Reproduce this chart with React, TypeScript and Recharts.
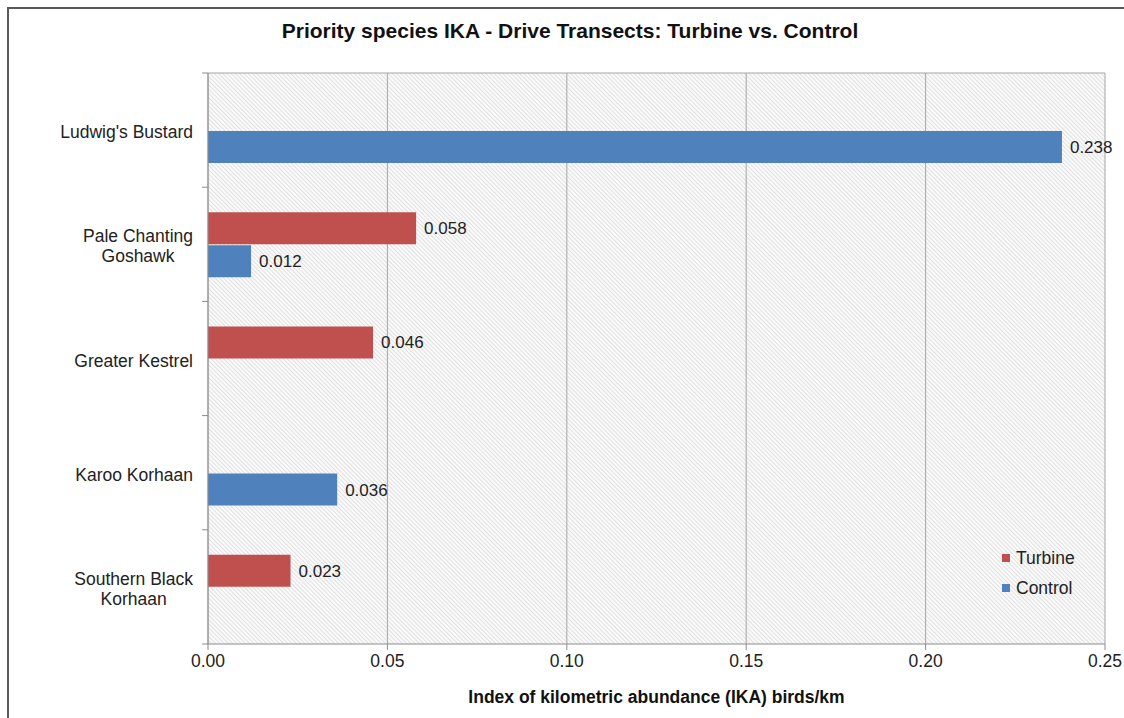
import React from 'react';
import { BarChart, Bar, XAxis, YAxis, CartesianGrid, Legend, LabelList } from 'recharts';

const species = [
  "Ludwig's Bustard",
  'Pale Chanting Goshawk',
  'Greater Kestrel',
  'Karoo Korhaan',
  'Southern Black Korhaan',
];
const turbine: (number | null)[] = [null, 0.058, 0.046, null, 0.023];
const control: (number | null)[] = [0.238, 0.012, null, 0.036, null];
const xTicks = [0, 0.05, 0.1, 0.15, 0.2, 0.25];

const data = species.map((name, i) => ({ name, turbine: turbine[i], control: control[i] }));

const W = 1124;
const H = 718;
const PLOT_LEFT = 208;
const PLOT_TOP = 73;
const PLOT_RIGHT = 1105;
const PLOT_BOTTOM = 644;
const BAND = (PLOT_BOTTOM - PLOT_TOP) / species.length;
const LABEL_RIGHT = 193;

const RED = '#C0504D';
const BLUE = '#4F81BD';
const AXIS = '#8c8c8c';
const FONT = '"Liberation Sans", Arial, sans-serif';
const FS = 17.5;

const wrap = (s: string) => {
  if (s.length <= 16) return [s];
  const cut = s.lastIndexOf(' ');
  return [s.slice(0, cut), s.slice(cut + 1)];
};

let ctx: CanvasRenderingContext2D | null = null;
const measure = (s: string) => {
  if (!ctx) ctx = document.createElement('canvas').getContext('2d');
  if (!ctx) return s.length * 8;
  ctx.font = `${FS}px ${FONT}`;
  return ctx.measureText(s).width;
};

// lines centred on each other, block right-aligned against the axis
const CategoryTick = (props: any) => {
  const { y, payload, index } = props;
  const lines = wrap(payload.value);
  const blockW = Math.max(...lines.map(measure));
  const cx = LABEL_RIGHT - blockW / 2;
  const top = y - BAND / 2;
  return (
    <g>
      <line x1={PLOT_LEFT - 6} x2={PLOT_LEFT} y1={top} y2={top} stroke={AXIS} />
      {index === species.length - 1 && (
        <line x1={PLOT_LEFT - 6} x2={PLOT_LEFT} y1={top + BAND} y2={top + BAND} stroke={AXIS} />
      )}
      <text textAnchor="middle" fontSize={FS} fill="#222" fontFamily={FONT}>
        {lines.map((l, i) => (
          <tspan key={i} x={cx} y={y + 8 + (i - (lines.length - 1) / 2) * 20}>
            {l}
          </tspan>
        ))}
      </text>
    </g>
  );
};

const fmt = (v: any) => (v == null ? '' : Number(v).toFixed(3));

const LegendBox = () => (
  <div style={{ fontFamily: FONT, fontSize: FS, color: '#222', lineHeight: '30px' }}>
    {[
      { label: 'Turbine', color: RED },
      { label: 'Control', color: BLUE },
    ].map((it) => (
      <div key={it.label} style={{ display: 'flex', alignItems: 'center' }}>
        <span style={{ width: 8, height: 8, background: it.color, marginRight: 6, display: 'inline-block' }} />
        {it.label}
      </div>
    ))}
  </div>
);

export default function App() {
  return (
    <div
      style={{
        position: 'absolute',
        left: 0,
        top: 0,
        width: W,
        height: H,
        overflow: 'hidden',
        background: '#fff',
        fontFamily: FONT,
      }}
    >
      <svg width={0} height={0} style={{ position: 'absolute' }}>
        <defs>
          <pattern id="hatch" width={3} height={3} patternUnits="userSpaceOnUse" patternTransform="rotate(-45)">
            <rect width={3} height={3} fill="#fafafa" />
            <line x1={0} y1={0} x2={0} y2={3} stroke="#c8c8c8" strokeWidth={1} />
          </pattern>
        </defs>
      </svg>
      <div
        style={{
          position: 'absolute',
          left: 7,
          top: 7,
          width: W + 20,
          height: H + 20,
          border: '2px solid #5a5a5a',
        }}
      />
      <div
        style={{
          position: 'absolute',
          left: 0,
          width: 1140,
          top: 19,
          textAlign: 'center',
          fontWeight: 'bold',
          fontSize: 21,
          color: '#111',
        }}
      >
        Priority species IKA - Drive Transects: Turbine vs. Control
      </div>
      <div
        style={{
          position: 'absolute',
          left: PLOT_LEFT,
          width: PLOT_RIGHT - PLOT_LEFT,
          top: 687,
          textAlign: 'center',
          fontWeight: 'bold',
          fontSize: 17.5,
          color: '#111',
        }}
      >
        Index of kilometric abundance (IKA) birds/km
      </div>
      <BarChart
        width={W}
        height={H}
        data={data}
        layout="vertical"
        barSize={32}
        barGap={1}
        margin={{ top: PLOT_TOP, right: W - PLOT_RIGHT, bottom: 0, left: 8 }}
        style={{ position: 'absolute', left: 0, top: 0 }}
      >
        <CartesianGrid
          fill="url(#hatch)"
          stroke="#a6a6a6"
          horizontalPoints={[PLOT_TOP]}
          verticalPoints={xTicks.map((t) => PLOT_LEFT + (t / 0.25) * (PLOT_RIGHT - PLOT_LEFT))}
        />
        <XAxis
          type="number"
          domain={[0, 0.25]}
          ticks={xTicks}
          tickFormatter={(v: number) => v.toFixed(2)}
          height={H - PLOT_BOTTOM}
          stroke={AXIS}
          tickSize={6}
          tickMargin={5}
          tick={{ fontSize: FS, fill: '#222', fontFamily: FONT }}
        />
        <YAxis
          type="category"
          dataKey="name"
          width={PLOT_LEFT - 8}
          stroke={AXIS}
          tickLine={false}
          tick={<CategoryTick />}
          interval={0}
        />
        <Legend
          layout="vertical"
          align="center"
          verticalAlign="middle"
          content={<LegendBox />}
          wrapperStyle={{ position: 'absolute', left: 1002, top: 543, width: 100 }}
        />
        <Bar dataKey="turbine" name="Turbine" fill={RED} isAnimationActive={false}>
          <LabelList dataKey="turbine" position="right" offset={8} formatter={fmt} fontSize={17} fill="#222" fontFamily={FONT} />
        </Bar>
        <Bar dataKey="control" name="Control" fill={BLUE} isAnimationActive={false}>
          <LabelList dataKey="control" position="right" offset={8} formatter={fmt} fontSize={17} fill="#222" fontFamily={FONT} />
        </Bar>
      </BarChart>
    </div>
  );
}
